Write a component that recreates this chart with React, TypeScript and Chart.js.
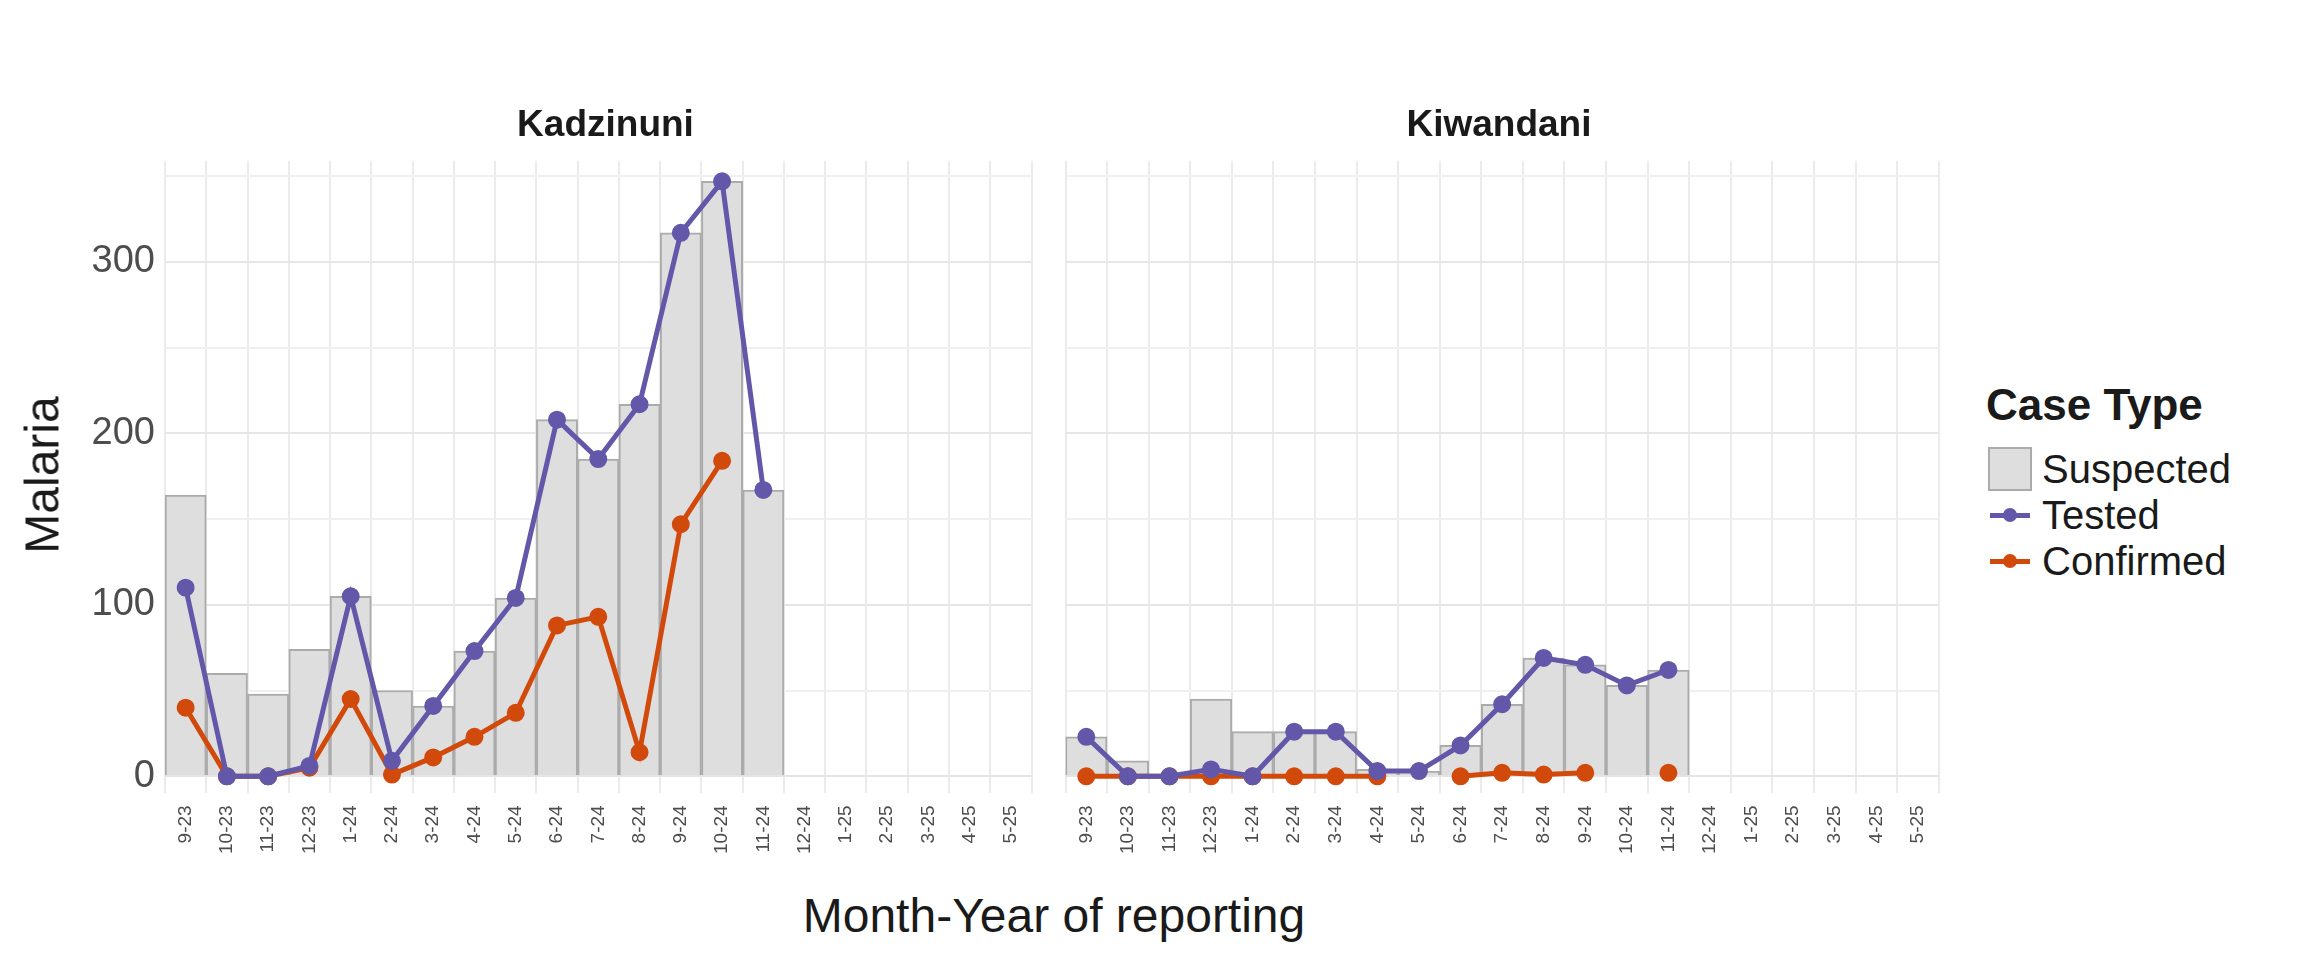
import { useEffect, useRef } from "react";
import { Chart, registerables } from "chart.js";

Chart.register(...registerables);

const months = ["9-23", "10-23", "11-23", "12-23", "1-24", "2-24", "3-24", "4-24", "5-24", "6-24", "7-24", "8-24", "9-24", "10-24", "11-24", "12-24", "1-25", "2-25", "3-25", "4-25", "5-25"];

const kadSuspected = [164, 60, 48, 74, 105, 50, 41, 73, 104, 208, 185, 217, 317, 347, 167, null, null, null, null, null, null];
const kadTested = [110, 0, 0, 6, 105, 9, 41, 73, 104, 208, 185, 217, 317, 347, 167, null, null, null, null, null, null];
const kadConfirmed = [40, 0, 0, 5, 45, 1, 11, 23, 37, 88, 93, 14, 147, 184, null, null, null, null, null, null, null];

const kiwSuspected = [23, 9, 0, 45, 26, 26, 26, 4, 3, 18, 42, 69, 65, 53, 62, null, null, null, null, null, null];
const kiwTested = [23, 0, 0, 4, 0, 26, 26, 3, 3, 18, 42, 69, 65, 53, 62, null, null, null, null, null, null];
const kiwConfirmed = [0, 0, 0, 0, 0, 0, 0, 0, null, 0, 2, 1, 2, null, 2, null, null, null, null, null, null];

const yTicks = [0, 50, 100, 150, 200, 250, 300, 350];
const font = "Liberation Sans, Arial, sans-serif";
const purple = "#6257a8";
const orange = "#d14a0b";

function Panel({ suspected, tested, confirmed, showY }: any) {
  const canvasRef = useRef<HTMLCanvasElement>(null);
  const chartRef = useRef<Chart | null>(null);

  useEffect(() => {
    if (!canvasRef.current) return;
    if (chartRef.current) chartRef.current.destroy();
    const line = (label: string, data: any[], color: string) => ({
      type: "line" as const,
      label,
      data,
      borderColor: color,
      backgroundColor: color,
      borderWidth: 5,
      pointRadius: 6.5,
      pointHoverRadius: 6.5,
      spanGaps: false,
      order: 0,
    });
    chartRef.current = new Chart(canvasRef.current, {
      type: "bar",
      data: {
        labels: months,
        datasets: [
          {
            type: "bar",
            label: "Suspected",
            data: suspected,
            backgroundColor: "#dedede",
            borderColor: "#ababab",
            borderWidth: 2,
            barPercentage: 1,
            categoryPercentage: 1,
            order: 2,
          },
          line("Tested", tested, purple),
          line("Confirmed", confirmed, orange),
        ] as any,
      },
      options: {
        animation: false,
        responsive: false,
        layout: { padding: { top: 10, right: 0, left: 0, bottom: 0 } },
        plugins: { legend: { display: false }, tooltip: { enabled: false } },
        scales: {
          x: {
            grid: { color: "#ebebeb", lineWidth: 2, drawTicks: false },
            border: { display: false },
            ticks: {
              minRotation: 90,
              maxRotation: 90,
              padding: 12,
              color: "#4d4d4d",
              font: { family: font, size: 19 },
            },
          },
          y: {
            min: -10,
            max: 359,
            afterBuildTicks: (ax: any) => {
              ax.ticks = yTicks.map((v) => ({ value: v }));
            },
            afterFit: (ax: any) => {
              ax.width = showY ? 105 : 1;
            },
            grid: {
              color: (c: any) => (c.tick && c.tick.value % 100 === 0 ? "#e6e6e6" : "#f0f0f0"),
              lineWidth: 2,
              drawTicks: false,
            },
            border: { display: false },
            ticks: {
              padding: 10,
              color: showY ? "#4d4d4d" : "rgba(0,0,0,0)",
              font: { family: font, size: 38 },
              callback: (v: any) => (Number(v) % 100 === 0 ? String(v) : ""),
            },
          },
        },
      },
    });
    return () => {
      if (chartRef.current) chartRef.current.destroy();
    };
  }, []);

  return <canvas ref={canvasRef} width={showY ? 986 : 899} height={738} />;
}

const titleStyle: any = {
  position: "absolute",
  fontFamily: font,
  fontWeight: "bold",
  fontSize: 37,
  color: "#1a1a1a",
  textAlign: "center",
};

export default function App() {
  const legendRow = (kind: string, label: string, color: string, top: number) => (
    <div style={{ position: "absolute", left: 1988, top, height: 46, display: "flex", alignItems: "center" }}>
      {kind === "box" ? (
        <div style={{ width: 44, height: 44, background: "#dedede", border: "2px solid #ababab", boxSizing: "border-box" }} />
      ) : (
        <div style={{ width: 44, height: 44, position: "relative" }}>
          <div style={{ position: "absolute", left: 2, right: 2, top: 20, height: 5, background: color }} />
          <div style={{ position: "absolute", left: 15, top: 15, width: 14, height: 14, borderRadius: 7, background: color }} />
        </div>
      )}
      <span style={{ marginLeft: 10, fontFamily: font, fontSize: 40, color: "#1a1a1a" }}>{label}</span>
    </div>
  );

  return (
    <div style={{ position: "absolute", left: 0, top: 0, width: 2304, height: 960, background: "#fff", overflow: "hidden" }}>
      <div style={{ position: "absolute", left: 60, top: 128 }}>
        <Panel suspected={kadSuspected} tested={kadTested} confirmed={kadConfirmed} showY={true} />
      </div>
      <div style={{ position: "absolute", left: 1054, top: 128 }}>
        <Panel suspected={kiwSuspected} tested={kiwTested} confirmed={kiwConfirmed} showY={false} />
      </div>
      <div style={{ ...titleStyle, left: 165, width: 881, top: 103 }}>Kadzinuni</div>
      <div style={{ ...titleStyle, left: 1055, width: 888, top: 103 }}>Kiwandani</div>
      <div
        style={{
          position: "absolute",
          left: 12,
          top: 475,
          transform: "translate(0,-50%) rotate(-90deg)",
          transformOrigin: "center",
          fontFamily: font,
          fontSize: 48,
          color: "#1a1a1a",
          width: 60,
          display: "flex",
          justifyContent: "center",
        }}
      >
        <span style={{ whiteSpace: "nowrap" }}>Malaria</span>
      </div>
      <div style={{ position: "absolute", left: 165, width: 1778, top: 888, textAlign: "center", fontFamily: font, fontSize: 48, color: "#1a1a1a" }}>
        Month-Year of reporting
      </div>
      <div style={{ position: "absolute", left: 1986, top: 380, fontFamily: font, fontWeight: "bold", fontSize: 44, color: "#1a1a1a" }}>
        Case Type
      </div>
      {legendRow("box", "Suspected", "", 446)}
      {legendRow("line", "Tested", purple, 492)}
      {legendRow("line", "Confirmed", orange, 538)}
    </div>
  );
}
